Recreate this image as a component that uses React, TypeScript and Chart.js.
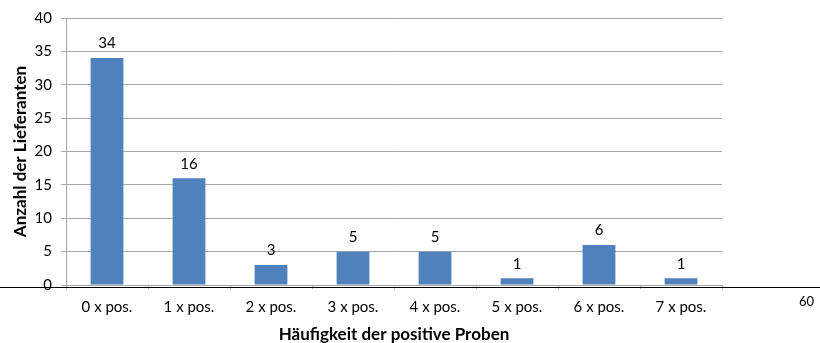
import React, { useEffect, useRef } from "react";
import { Chart, registerables } from "chart.js";

Chart.register(...registerables);

const categories = ["0 x pos.", "1 x pos.", "2 x pos.", "3 x pos.", "4 x pos.", "5 x pos.", "6 x pos.", "7 x pos."];
const values = [34, 16, 3, 5, 5, 1, 6, 1];
const yTitle = "Anzahl der Lieferanten";
const xTitle = "Häufigkeit der positive Proben";
const strayLabel = "60";

const FONT = "Lato, 'Open Sans', sans-serif";

export default function App() {
  const ref = useRef<HTMLCanvasElement | null>(null);

  useEffect(() => {
    document.body.style.margin = "0";
    const canvas = ref.current;
    if (!canvas) return;

    const valueLabels = {
      id: "valueLabels",
      afterDatasetsDraw(chart: any) {
        const ctx = chart.ctx;
        const meta = chart.getDatasetMeta(0);
        ctx.save();
        ctx.font = `15px ${FONT}`;
        ctx.fillStyle = "#000";
        ctx.textAlign = "center";
        ctx.textBaseline = "bottom";
        meta.data.forEach((el: any, i: number) => {
          ctx.fillText(String(chart.data.datasets[0].data[i]), el.x, el.y - 7);
        });
        ctx.restore();
      },
    };

    const chart = new Chart(canvas, {
      type: "bar",
      data: {
        labels: categories,
        datasets: [
          {
            data: values,
            backgroundColor: "#4F81BD",
            borderWidth: 0,
            categoryPercentage: 1,
            barPercentage: 0.4,
          },
        ],
      },
      options: {
        animation: false,
        responsive: false,
        maintainAspectRatio: false,
        layout: { padding: { top: 17, right: 98, left: 0, bottom: 0 } },
        plugins: {
          legend: { display: false },
          tooltip: { enabled: false },
        },
        scales: {
          x: {
            grid: {
              offset: true,
              drawOnChartArea: false,
              drawTicks: true,
              tickLength: 4,
              color: "#a6a6a6",
            },
            border: { color: "#a6a6a6" },
            ticks: {
              color: "#000",
              font: { family: FONT, size: 15 },
              padding: 9,
              maxRotation: 0,
            },
            title: {
              display: true,
              text: xTitle,
              color: "#000",
              font: { family: FONT, size: 17, weight: "bold" },
              padding: { top: 4, bottom: -2 },
            },
            afterFit(scale: any) {
              scale.height = 58;
            },
          },
          y: {
            min: 0,
            max: 40,
            ticks: {
              stepSize: 5,
              color: "#000",
              font: { family: FONT, size: 15 },
              padding: 9,
            },
            grid: {
              color: "#a6a6a6",
              drawTicks: true,
              tickLength: 5,
            },
            border: { color: "#a6a6a6" },
            title: {
              display: true,
              text: yTitle,
              color: "#000",
              font: { family: FONT, size: 17, weight: "bold" },
              padding: { top: 10, bottom: 4 },
            },
            afterFit(scale: any) {
              scale.width = 66;
            },
          },
        },
      },
      plugins: [valueLabels],
    });
    return () => chart.destroy();
  }, []);

  return (
    <div style={{ position: "relative", width: 820, height: 343, background: "#fff" }}>
      <canvas ref={ref} width={820} height={343} style={{ display: "block" }} />
      <div
        style={{
          position: "absolute",
          left: 0,
          top: 287,
          width: 820,
          height: 0,
          borderTop: "1px solid #000",
        }}
      />
      <span
        style={{
          position: "absolute",
          left: 799,
          top: 294,
          fontFamily: FONT,
          fontSize: 13,
          color: "#000",
          lineHeight: "14px",
        }}
      >
        {strayLabel}
      </span>
    </div>
  );
}
